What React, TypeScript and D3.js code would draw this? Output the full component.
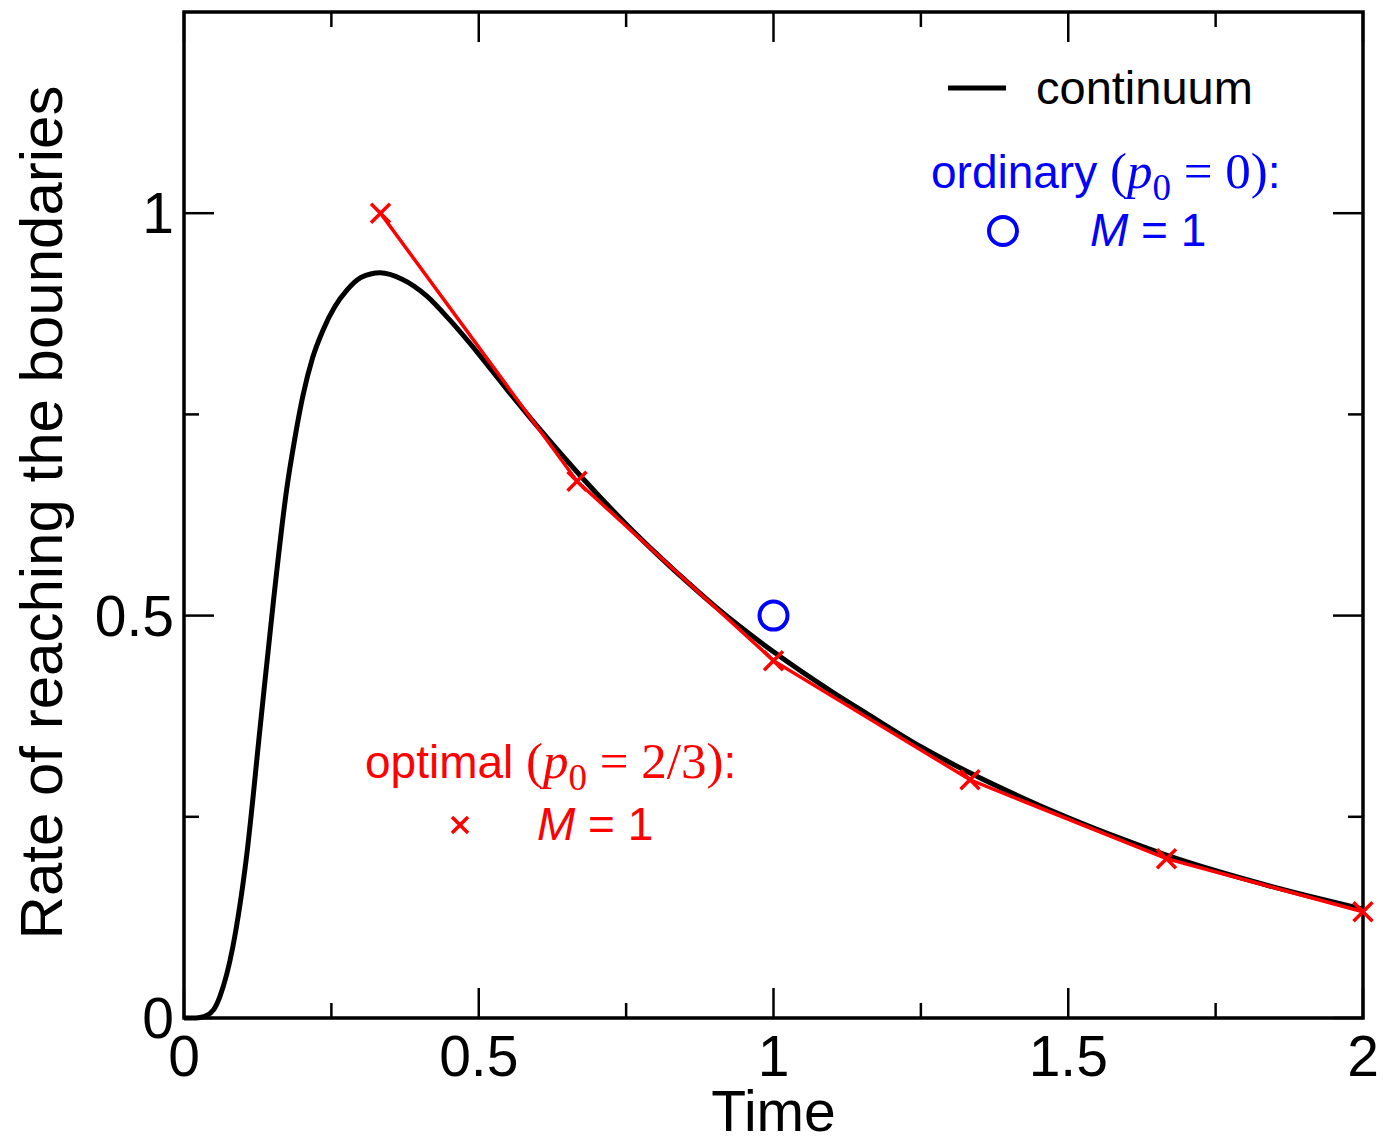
import React from "react";
import * as d3 from "d3";

// Continuum curve
const contT = [0, 0.02, 0.035, 0.05, 0.061, 0.083, 0.106, 0.129, 0.152, 0.174, 0.188, 0.202, 0.218, 0.236, 0.256, 0.276, 0.3, 0.333, 0.37, 0.412, 0.45, 0.5, 0.55, 0.61, 0.677, 0.751, 0.8, 0.864, 0.9, 1.0, 1.1, 1.161, 1.25, 1.332, 1.4, 1.496, 1.6, 1.664, 1.75, 1.832, 1.9, 2.0];
const contY = [0, 0, 0.002, 0.01, 0.027, 0.089, 0.2, 0.36, 0.52, 0.656, 0.72, 0.774, 0.82, 0.855, 0.884, 0.904, 0.92, 0.926, 0.918, 0.897, 0.868, 0.825, 0.779, 0.726, 0.67, 0.613, 0.578, 0.535, 0.512, 0.455, 0.405, 0.377, 0.337, 0.305, 0.281, 0.25, 0.22, 0.203, 0.183, 0.166, 0.153, 0.135];

// Optimal (p0 = 2/3), M = 1
const optT = [1 / 3, 2 / 3, 1, 4 / 3, 5 / 3, 2];
const optY = [1.0, 0.667, 0.444, 0.296, 0.198, 0.132];

// Ordinary (p0 = 0), M = 1
const ordT = [1];
const ordY = [0.5];

const xMajor = [0, 0.5, 1, 1.5, 2];
const xMinor = [0.25, 0.75, 1.25, 1.75];
const yMajor = [0, 0.5, 1];
const yMinor = [0.25, 0.75];
const xTickLabels = ["0", "0.5", "1", "1.5", "2"];
const yTickLabels = ["0", "0.5", "1"];

const W = 1383, H = 1141;
const L = 184, R = 1363, T = 12, B = 1018;

export default function App() {
  const x = d3.scaleLinear().domain([0, 2]).range([L, R]);
  const y = d3.scaleLinear().domain([0, 1.25]).range([B, T]);
  const sans = "'Liberation Sans', Arial, Helvetica, sans-serif";
  const serif = "'Liberation Serif', 'Times New Roman', serif";

  const contLine = d3
    .line<number>()
    .x((_, i) => x(contT[i]))
    .y((d) => y(d))
    .curve(d3.curveMonotoneX)(contY) as string;
  const optLine = d3
    .line<number>()
    .x((_, i) => x(optT[i]))
    .y((d) => y(d))(optY) as string;

  const cross = (cx: number, cy: number, s: number, key: string) => (
    <path key={key} d={`M${cx - s},${cy - s}L${cx + s},${cy + s}M${cx - s},${cy + s}L${cx + s},${cy - s}`} stroke="#ff0000" strokeWidth={3.5} fill="none" />
  );

  const MJ = 30, MN = 15;

  return (
    <svg width={W} height={H} style={{ position: "absolute", left: 0, top: 0, background: "#fff" }}>
      <rect x={0} y={0} width={W} height={H} fill="#fff" />
      {/* ticks */}
      <g stroke="#000" strokeWidth={2.5}>
        {xMajor.map((v) => (
          <g key={"xm" + v}>
            <line x1={x(v)} x2={x(v)} y1={B} y2={B - MJ} />
            <line x1={x(v)} x2={x(v)} y1={T} y2={T + MJ} />
          </g>
        ))}
        {xMinor.map((v) => (
          <g key={"xn" + v}>
            <line x1={x(v)} x2={x(v)} y1={B} y2={B - MN} />
            <line x1={x(v)} x2={x(v)} y1={T} y2={T + MN} />
          </g>
        ))}
        {yMajor.map((v) => (
          <g key={"ym" + v}>
            <line x1={L} x2={L + MJ} y1={y(v)} y2={y(v)} />
            <line x1={R} x2={R - MJ} y1={y(v)} y2={y(v)} />
          </g>
        ))}
        {yMinor.map((v) => (
          <g key={"yn" + v}>
            <line x1={L} x2={L + MN} y1={y(v)} y2={y(v)} />
            <line x1={R} x2={R - MN} y1={y(v)} y2={y(v)} />
          </g>
        ))}
      </g>
      <rect x={L} y={T} width={R - L} height={B - T} fill="none" stroke="#000" strokeWidth={3.5} />

      {/* tick labels */}
      <g fontFamily={sans} fontSize={57} fill="#000">
        {xMajor.map((v, i) => (
          <text key={"xl" + v} x={x(v)} y={1076} textAnchor="middle">{xTickLabels[i]}</text>
        ))}
        {yMajor.map((v, i) => (
          <text key={"yl" + v} x={174} y={y(v) + 20} textAnchor="end">{yTickLabels[i]}</text>
        ))}
      </g>
      <text x={x(1)} y={1131} textAnchor="middle" fontFamily={sans} fontSize={57}>Time</text>
      <text transform={`translate(62,${(87 + 938) / 2}) rotate(-90)`} textAnchor="middle" fontFamily={sans} fontSize={60}>Rate of reaching the boundaries</text>

      {/* data */}
      <path d={contLine} fill="none" stroke="#000" strokeWidth={5} strokeLinejoin="round" />
      <path d={optLine} fill="none" stroke="#ff0000" strokeWidth={3.5} />
      {optT.map((t, i) => cross(x(t), y(optY[i]), 9.5, "c" + i))}
      {ordT.map((t, i) => (
        <circle key={"o" + i} cx={x(t)} cy={y(ordY[i])} r={14} fill="none" stroke="#0000ff" strokeWidth={4} />
      ))}

      {/* legend */}
      <line x1={948} x2={1006} y1={88} y2={88} stroke="#000" strokeWidth={5} />
      <text x={1036} y={104} fontFamily={sans} fontSize={47} fill="#000">continuum</text>

      <text x={931} y={188} fontSize={46} fill="#0000ff">
        <tspan fontFamily={sans}>ordinary </tspan>
        <tspan fontFamily={serif} fontSize={51}>(</tspan>
        <tspan fontFamily={serif} fontSize={51} fontStyle="italic">p</tspan>
        <tspan fontFamily={serif} fontSize={37} dy={12}>0</tspan>
        <tspan fontFamily={serif} fontSize={51} dy={-12}> = 0)</tspan>
        <tspan fontFamily={sans}>:</tspan>
      </text>
      <circle cx={1003} cy={231} r={14} fill="none" stroke="#0000ff" strokeWidth={4} />
      <text x={1090} y={246} fontSize={46} fill="#0000ff" fontFamily={sans}>
        <tspan fontStyle="italic">M</tspan>
        <tspan> = 1</tspan>
      </text>

      <text x={365} y={778} fontSize={46} fill="#ff0000">
        <tspan fontFamily={sans}>optimal </tspan>
        <tspan fontFamily={serif} fontSize={51}>(</tspan>
        <tspan fontFamily={serif} fontSize={51} fontStyle="italic">p</tspan>
        <tspan fontFamily={serif} fontSize={37} dy={12}>0</tspan>
        <tspan fontFamily={serif} fontSize={51} dy={-12}> = 2/3)</tspan>
        <tspan fontFamily={sans}>:</tspan>
      </text>
      {cross(460, 825, 8, "leg")}
      <text x={537} y={840} fontSize={46} fill="#ff0000" fontFamily={sans}>
        <tspan fontStyle="italic">M</tspan>
        <tspan> = 1</tspan>
      </text>
    </svg>
  );
}
